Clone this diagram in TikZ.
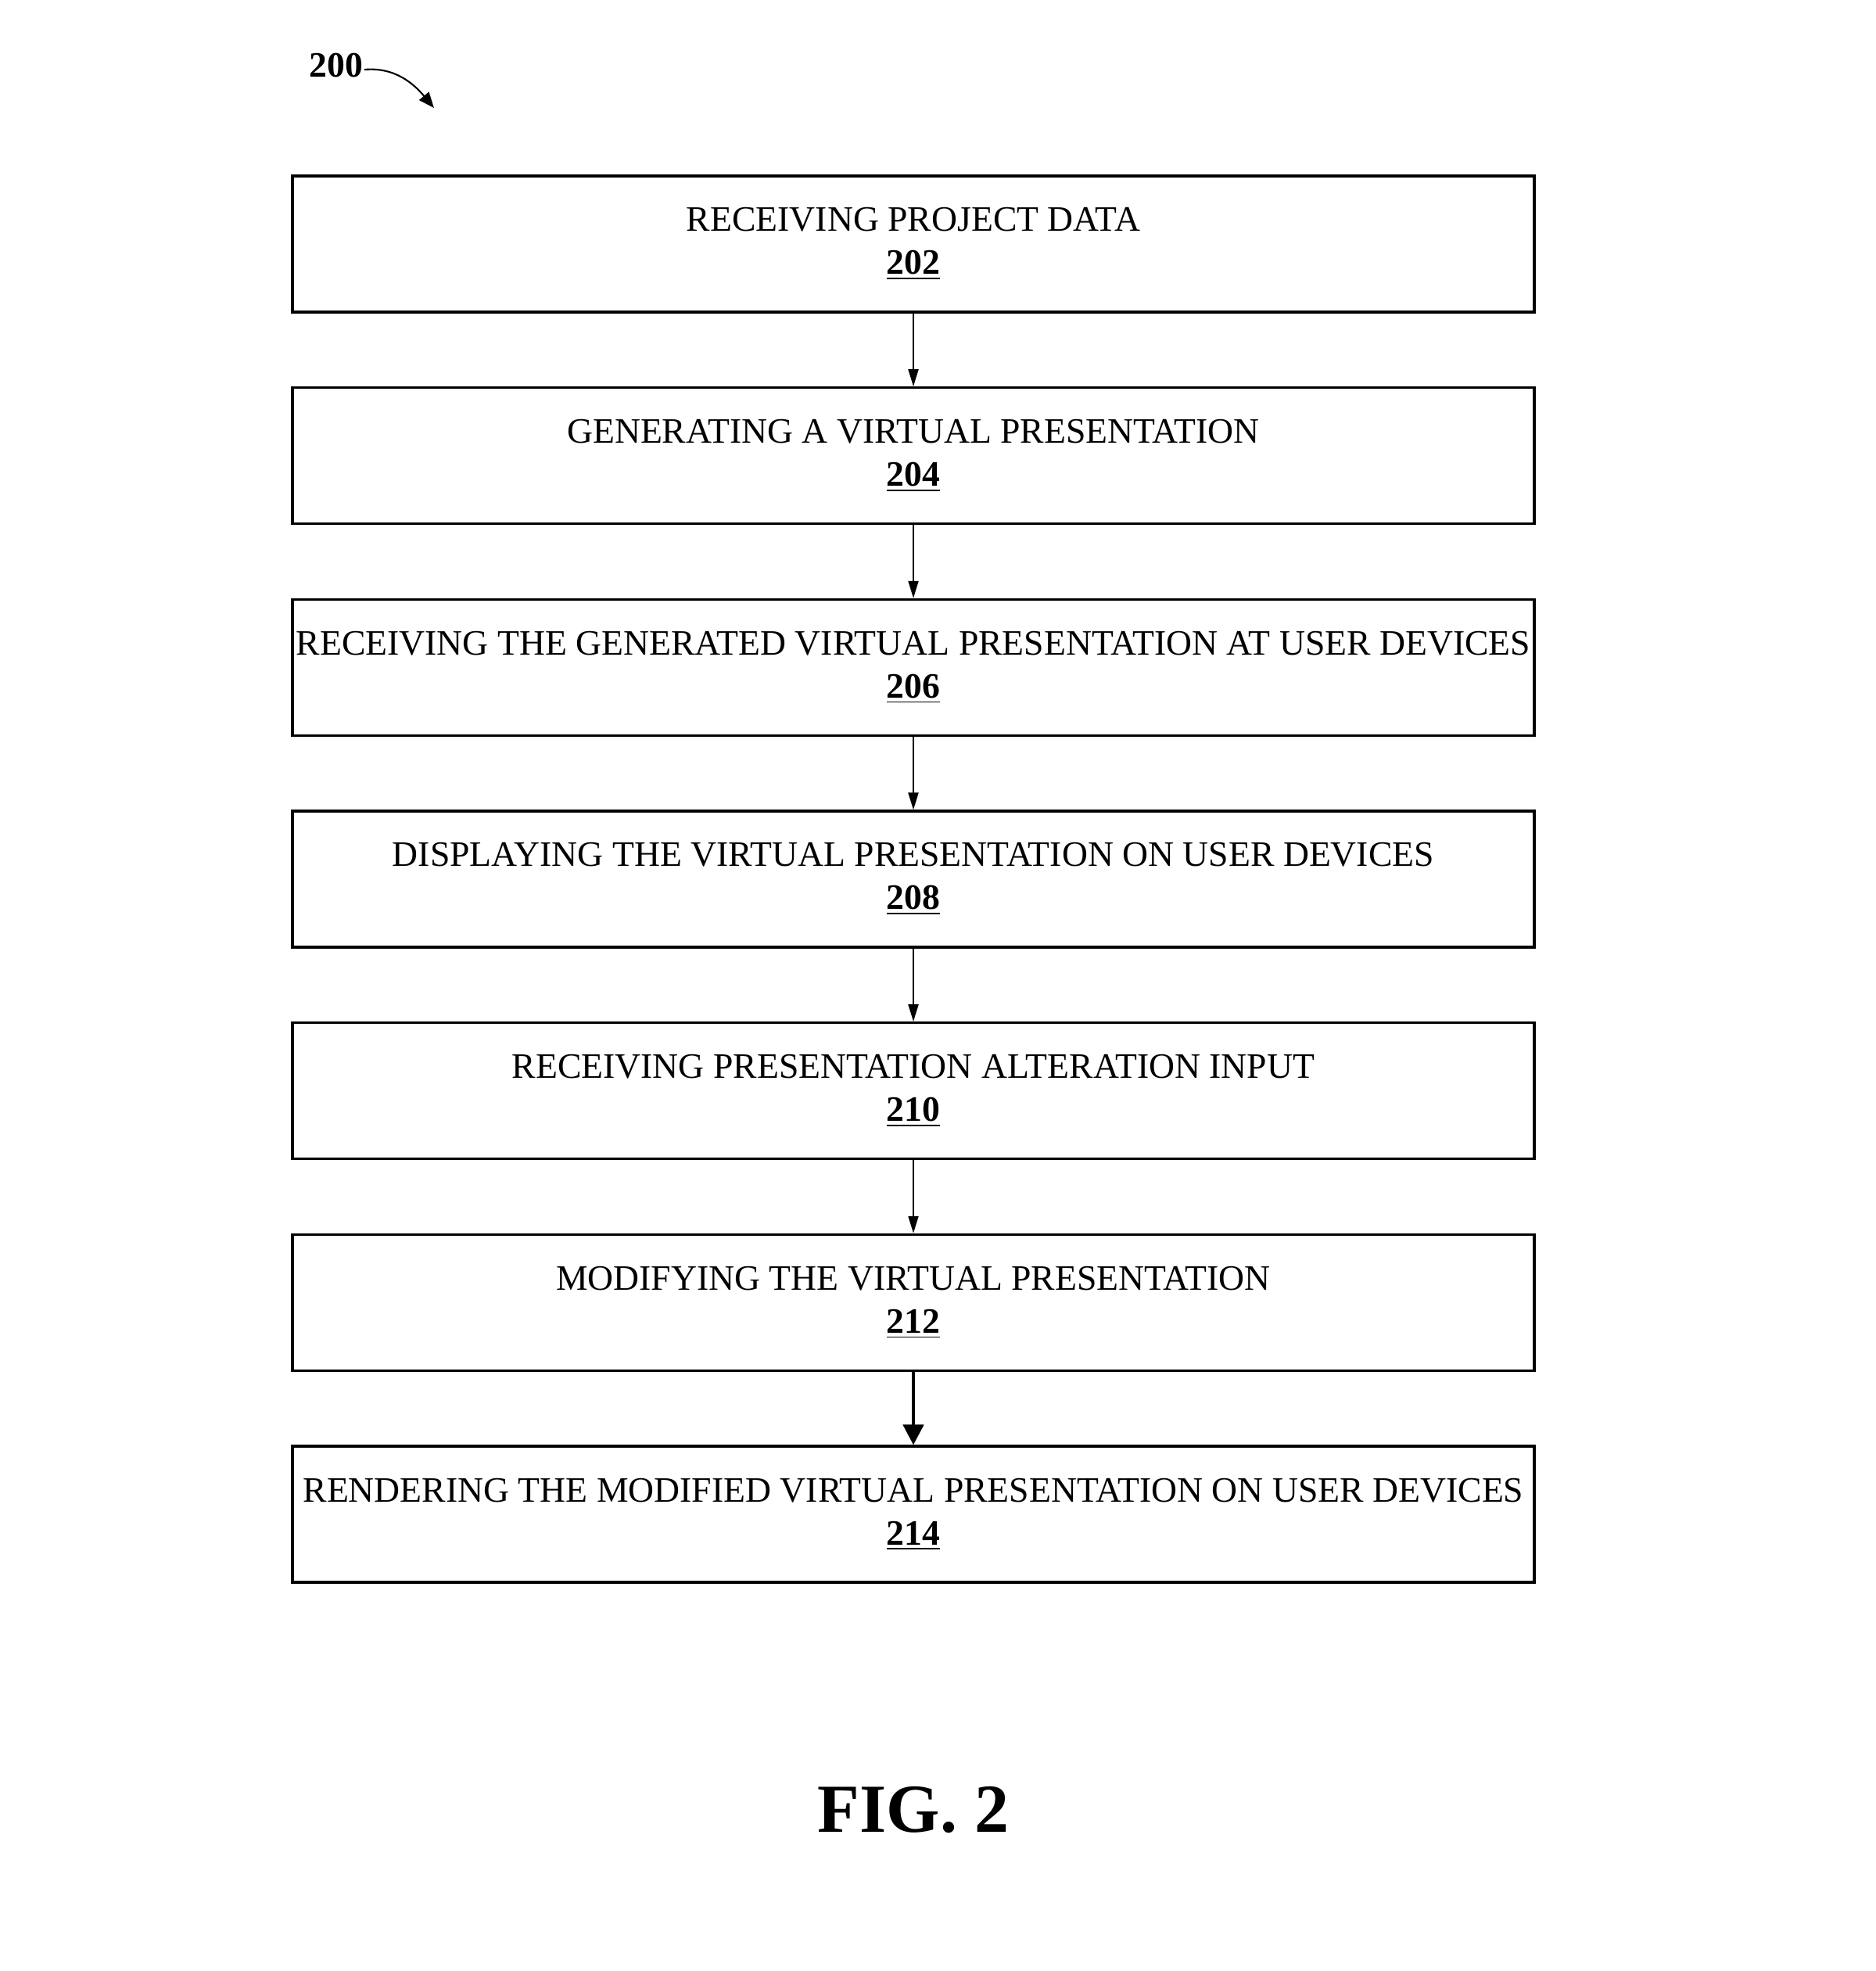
\documentclass[tikz,border=0pt]{standalone}
\usepackage{fontspec}
\setmainfont{Liberation Serif}
\usepackage{tikz}
\usetikzlibrary{positioning, arrows.meta}

\begin{document}
\begin{tikzpicture}[>={Triangle[length=0.22cm, width=0.13cm]}, node distance=0.935cm,
    stepbox/.style={draw, line width=0.9pt, minimum width=15.88cm, minimum height=1.74cm,
      inner sep=0pt, align=center, font=\fontsize{13}{15.6}\selectfont},
    flow/.style={->, line width=0.6pt}]
			\useasboundingbox (0,0) rectangle (23.98,-25.20);
			
			% Figure number
			\node[font=\fontsize{13}{15}\selectfont\bfseries] (fignum) at (4.30,-0.84) {200};
			\coordinate (figtip) at (5.55,-1.38);
			\draw[-{Triangle[length=0.2cm, width=0.16cm]}, line width=0.6pt] (4.66,-0.89) to[out=5, in=130] (figtip);
			
			% Steps
			\node[stepbox] (recv) at (11.68,-3.12) {RECEIVING PROJECT DATA\\\textbf{\underline{202}}};
			\node[stepbox, below=of recv] (gen) {GENERATING A VIRTUAL PRESENTATION\\\textbf{\underline{204}}};
			\node[stepbox, below=of gen] (recvdev) {RECEIVING THE GENERATED VIRTUAL PRESENTATION AT USER DEVICES\\\textbf{\underline{206}}};
			\node[stepbox, below=of recvdev] (disp) {DISPLAYING THE VIRTUAL PRESENTATION ON USER DEVICES\\\textbf{\underline{208}}};
			\node[stepbox, below=of disp] (alter) {RECEIVING PRESENTATION ALTERATION INPUT\\\textbf{\underline{210}}};
			\node[stepbox, below=of alter] (modify) {MODIFYING THE VIRTUAL PRESENTATION\\\textbf{\underline{212}}};
			\node[stepbox, below=of modify] (render) {RENDERING THE MODIFIED VIRTUAL PRESENTATION ON USER DEVICES\\\textbf{\underline{214}}};
			
			% Arrows
			\draw[flow] (recv) -- (gen);
			\draw[flow] (gen) -- (recvdev);
			\draw[flow] (recvdev) -- (disp);
			\draw[flow] (disp) -- (alter);
			\draw[flow] (alter) -- (modify);
			\draw[-{Triangle[length=0.26cm, width=0.26cm]}, line width=1.3pt] (modify) -- (render);
			
			% Caption
			\node[font=\fontsize{25}{30}\selectfont\bfseries] (caption) at (11.68,-23.14) {FIG. 2};
		\end{tikzpicture}
\end{document}
